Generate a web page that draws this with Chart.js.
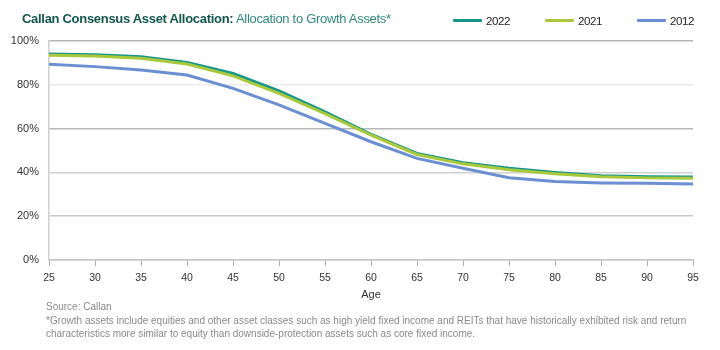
<!DOCTYPE html>
<html>
<head>
<meta charset="utf-8">
<script src="https://cdn.jsdelivr.net/npm/chart.js@4"></script>
<style>
  html, body { margin:0; padding:0; background:#fff; }
  #wrap { position:relative; width:720px; height:350px; overflow:hidden; font-family:"Liberation Sans", Arial, sans-serif; }
  #c { position:absolute; left:0; top:0; }
  .title { position:absolute; left:22px; top:11px; font-size:13px; letter-spacing:-0.3px; color:#2f8a7c; white-space:nowrap; }
  .title b { color:#12574c; }
  .leg { position:absolute; top:15px; font-size:11.5px; letter-spacing:-0.4px; color:#222; white-space:nowrap; }
  .leg span.sw { display:inline-block; width:29px; height:3px; vertical-align:middle; margin-right:4px; position:relative; top:-1px; border-radius:1px; }
  .note { position:absolute; left:46px; font-size:10px; color:#8a8a8a; white-space:nowrap; }
</style>
</head>
<body>
<div id="wrap">
  <canvas id="c" width="720" height="350"></canvas>
  <div class="title"><b>Callan Consensus Asset Allocation:</b> Allocation to Growth Assets*</div>
  <div id="legend"></div>
  <div class="note" style="top:301px;">Source: Callan</div>
  <div class="note" style="top:315px;">*Growth assets include equities and other asset classes such as high yield fixed income and REITs that have historically exhibited risk and return</div>
  <div class="note" style="top:328px;">characteristics more similar to equity than downside-protection assets such as core fixed income.</div>
</div>
<script>
const ages = ["25","30","35","40","45","50","55","60","65","70","75","80","85","90","95"];
const s2022 = [94.1, 93.7, 92.8, 90.2, 85.2, 77.2, 67.7, 57.4, 48.7, 44.4, 41.9, 40.0, 38.5, 38.0, 37.9];
const s2021 = [93.5, 93.1, 92.1, 89.5, 84.1, 76.1, 66.8, 57.0, 48.2, 43.9, 41.2, 39.4, 38.0, 37.5, 37.3];
const s2012 = [89.4, 88.3, 86.8, 84.5, 78.4, 70.8, 62.4, 54.0, 46.4, 41.9, 37.6, 35.8, 35.2, 35.0, 34.7];
const yTicks = [0, 20, 40, 60, 80, 100];
const seriesNames = ["2022", "2021", "2012"];
const seriesColors = ["#16968a", "#a9c93b", "#6b8fd2"];

const legendX = [453, 545, 637];
const lg = document.getElementById('legend');
seriesNames.forEach((n, i) => {
  const d = document.createElement('div');
  d.className = 'leg';
  d.style.left = legendX[i] + 'px';
  d.innerHTML = '<span class="sw" style="background:' + seriesColors[i] + '"></span>' + n;
  lg.appendChild(d);
});

const gridCols = {0:'#c8c8c8', 20:'#c8c8c8', 40:'#d0d0d0', 60:'#b8b8b8', 80:'#ebebeb', 100:'#b4b4b4'};

new Chart(document.getElementById('c'), {
  type: 'line',
  data: {
    labels: ages,
    datasets: [
      { label: seriesNames[2], data: s2012, borderColor: seriesColors[2], borderWidth: 3, pointRadius: 0, tension: 0 },
      { label: seriesNames[1], data: s2021, borderColor: seriesColors[1], borderWidth: 3, pointRadius: 0, tension: 0 },
      { label: seriesNames[0], data: s2022, borderColor: seriesColors[0], borderWidth: 3, pointRadius: 0, tension: 0 }
    ]
  },
  options: {
    responsive: false,
    animation: false,
    layout: { padding: { left: 0, top: 41, right: 27, bottom: 48 } },
    plugins: { legend: { display: false }, tooltip: { enabled: false } },
    scales: {
      x: {
        offset: false,
        afterFit: s => { s.height = 42; },
        grid: { drawOnChartArea: false, drawTicks: true, tickLength: 6, color: '#aaaaaa' },
        border: { color: '#c8c8c8', width: 1.5 },
        ticks: { color: '#333', font: { family: 'Liberation Sans', size: 10.5 }, padding: 6, maxRotation: 0, autoSkip: false },
        title: { display: true, text: 'Age', color: '#333', font: { family: 'Liberation Sans', size: 11 }, padding: { top: 2, bottom: 0 } }
      },
      y: {
        min: 0, max: 100,
        afterFit: s => { s.width = 49; },
        afterBuildTicks: s => { s.ticks = yTicks.map(v => ({ value: v })); },
        grid: { drawTicks: false, lineWidth: 1.5, color: ctx => gridCols[ctx.tick ? ctx.tick.value : 0] || '#c8c8c8' },
        border: { color: '#d0d0d0', width: 1.5 },
        ticks: { color: '#333', font: { family: 'Liberation Sans', size: 11 }, padding: 10, callback: v => v + '%' }
      }
    }
  }
});
</script>
</body>
</html>
